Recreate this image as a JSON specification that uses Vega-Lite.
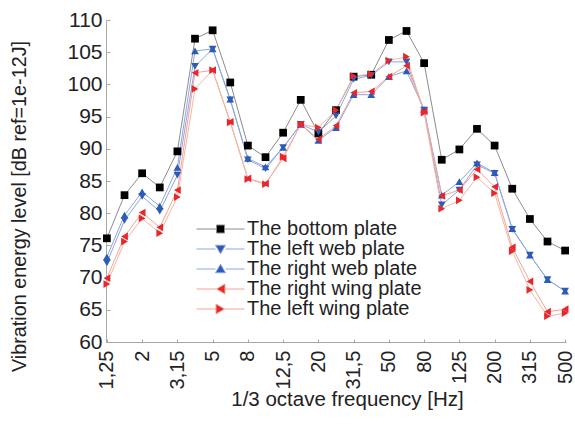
{
  "$schema": "https://vega.github.io/schema/vega-lite/v6.json",
  "autosize": "none",
  "padding": {"left": 106, "top": 20, "right": 9, "bottom": 98},
  "width": 460,
  "height": 322,
  "config": {
    "view": {"stroke": null},
    "font": "Liberation Sans",
    "axis": {"domainColor": "#a8a8a8", "tickColor": "#a8a8a8", "labelColor": "#222", "titleColor": "#222", "labelFont": "Liberation Sans", "titleFont": "Liberation Sans", "titleFontWeight": "normal", "grid": false}
  },
  "data": {
    "values": [
      {"f":"1,25","plate":"The bottom plate","level":76.1},{"f":"1,6","plate":"The bottom plate","level":82.8},{"f":"2","plate":"The bottom plate","level":86.2},{"f":"2,5","plate":"The bottom plate","level":84.0},{"f":"3,15","plate":"The bottom plate","level":89.6},{"f":"4","plate":"The bottom plate","level":107.1},{"f":"5","plate":"The bottom plate","level":108.4},{"f":"6,3","plate":"The bottom plate","level":100.3},{"f":"8","plate":"The bottom plate","level":90.5},{"f":"10","plate":"The bottom plate","level":88.7},{"f":"12,5","plate":"The bottom plate","level":92.5},{"f":"16","plate":"The bottom plate","level":97.6},{"f":"20","plate":"The bottom plate","level":92.4},{"f":"25","plate":"The bottom plate","level":96.0},{"f":"31,5","plate":"The bottom plate","level":101.2},{"f":"40","plate":"The bottom plate","level":101.5},{"f":"50","plate":"The bottom plate","level":106.9},{"f":"63","plate":"The bottom plate","level":108.3},{"f":"80","plate":"The bottom plate","level":103.3},{"f":"100","plate":"The bottom plate","level":88.3},{"f":"125","plate":"The bottom plate","level":89.9},{"f":"160","plate":"The bottom plate","level":93.1},{"f":"200","plate":"The bottom plate","level":90.5},{"f":"250","plate":"The bottom plate","level":83.8},{"f":"315","plate":"The bottom plate","level":79.1},{"f":"400","plate":"The bottom plate","level":75.6},{"f":"500","plate":"The bottom plate","level":74.2},
      {"f":"1,25","plate":"The left web plate","level":72.3},{"f":"1,6","plate":"The left web plate","level":78.9},{"f":"2","plate":"The left web plate","level":82.6},{"f":"2,5","plate":"The left web plate","level":80.3},{"f":"3,15","plate":"The left web plate","level":85.9},{"f":"4","plate":"The left web plate","level":102.8},{"f":"5","plate":"The left web plate","level":105.5},{"f":"6,3","plate":"The left web plate","level":97.6},{"f":"8","plate":"The left web plate","level":88.3},{"f":"10","plate":"The left web plate","level":86.9},{"f":"12,5","plate":"The left web plate","level":90.2},{"f":"16","plate":"The left web plate","level":93.8},{"f":"20","plate":"The left web plate","level":92.6},{"f":"25","plate":"The left web plate","level":95.1},{"f":"31,5","plate":"The left web plate","level":100.8},{"f":"40","plate":"The left web plate","level":101.4},{"f":"50","plate":"The left web plate","level":103.5},{"f":"63","plate":"The left web plate","level":103.5},{"f":"80","plate":"The left web plate","level":96.0},{"f":"100","plate":"The left web plate","level":81.3},{"f":"125","plate":"The left web plate","level":83.6},{"f":"160","plate":"The left web plate","level":87.5},{"f":"200","plate":"The left web plate","level":86.2},{"f":"250","plate":"The left web plate","level":77.5},{"f":"315","plate":"The left web plate","level":73.5},{"f":"400","plate":"The left web plate","level":69.7},{"f":"500","plate":"The left web plate","level":67.9},
      {"f":"1,25","plate":"The right web plate","level":73.2},{"f":"1,6","plate":"The right web plate","level":79.7},{"f":"2","plate":"The right web plate","level":83.3},{"f":"2,5","plate":"The right web plate","level":81.1},{"f":"3,15","plate":"The right web plate","level":87.1},{"f":"4","plate":"The right web plate","level":105.2},{"f":"5","plate":"The right web plate","level":105.5},{"f":"6,3","plate":"The right web plate","level":97.7},{"f":"8","plate":"The right web plate","level":88.5},{"f":"10","plate":"The right web plate","level":87.2},{"f":"12,5","plate":"The right web plate","level":90.2},{"f":"16","plate":"The right web plate","level":93.8},{"f":"20","plate":"The right web plate","level":91.3},{"f":"25","plate":"The right web plate","level":93.3},{"f":"31,5","plate":"The right web plate","level":98.4},{"f":"40","plate":"The right web plate","level":98.4},{"f":"50","plate":"The right web plate","level":101.2},{"f":"63","plate":"The right web plate","level":102.1},{"f":"80","plate":"The right web plate","level":96.1},{"f":"100","plate":"The right web plate","level":82.8},{"f":"125","plate":"The right web plate","level":84.9},{"f":"160","plate":"The right web plate","level":87.8},{"f":"200","plate":"The right web plate","level":86.3},{"f":"250","plate":"The right web plate","level":77.6},{"f":"315","plate":"The right web plate","level":73.5},{"f":"400","plate":"The right web plate","level":69.7},{"f":"500","plate":"The right web plate","level":67.9},
      {"f":"1,25","plate":"The right wing plate","level":69.9},{"f":"1,6","plate":"The right wing plate","level":76.4},{"f":"2","plate":"The right wing plate","level":80.1},{"f":"2,5","plate":"The right wing plate","level":77.8},{"f":"3,15","plate":"The right wing plate","level":83.6},{"f":"4","plate":"The right wing plate","level":101.8},{"f":"5","plate":"The right wing plate","level":102.2},{"f":"6,3","plate":"The right wing plate","level":94.2},{"f":"8","plate":"The right wing plate","level":85.4},{"f":"10","plate":"The right wing plate","level":84.6},{"f":"12,5","plate":"The right wing plate","level":88.5},{"f":"16","plate":"The right wing plate","level":93.8},{"f":"20","plate":"The right wing plate","level":91.5},{"f":"25","plate":"The right wing plate","level":93.6},{"f":"31,5","plate":"The right wing plate","level":98.7},{"f":"40","plate":"The right wing plate","level":98.9},{"f":"50","plate":"The right wing plate","level":101.2},{"f":"63","plate":"The right wing plate","level":102.9},{"f":"80","plate":"The right wing plate","level":95.8},{"f":"100","plate":"The right wing plate","level":82.7},{"f":"125","plate":"The right wing plate","level":83.6},{"f":"160","plate":"The right wing plate","level":86.8},{"f":"200","plate":"The right wing plate","level":84.1},{"f":"250","plate":"The right wing plate","level":74.7},{"f":"315","plate":"The right wing plate","level":69.4},{"f":"400","plate":"The right wing plate","level":64.7},{"f":"500","plate":"The right wing plate","level":65.1},
      {"f":"1,25","plate":"The left wing plate","level":69.0},{"f":"1,6","plate":"The left wing plate","level":75.6},{"f":"2","plate":"The left wing plate","level":79.2},{"f":"2,5","plate":"The left wing plate","level":76.9},{"f":"3,15","plate":"The left wing plate","level":82.5},{"f":"4","plate":"The left wing plate","level":99.3},{"f":"5","plate":"The left wing plate","level":102.2},{"f":"6,3","plate":"The left wing plate","level":94.1},{"f":"8","plate":"The left wing plate","level":85.3},{"f":"10","plate":"The left wing plate","level":84.5},{"f":"12,5","plate":"The left wing plate","level":88.8},{"f":"16","plate":"The left wing plate","level":93.8},{"f":"20","plate":"The left wing plate","level":93.3},{"f":"25","plate":"The left wing plate","level":96.0},{"f":"31,5","plate":"The left wing plate","level":101.3},{"f":"40","plate":"The left wing plate","level":101.6},{"f":"50","plate":"The left wing plate","level":103.7},{"f":"63","plate":"The left wing plate","level":104.3},{"f":"80","plate":"The left wing plate","level":95.6},{"f":"100","plate":"The left wing plate","level":80.7},{"f":"125","plate":"The left wing plate","level":82.0},{"f":"160","plate":"The left wing plate","level":85.6},{"f":"200","plate":"The left wing plate","level":83.1},{"f":"250","plate":"The left wing plate","level":74.1},{"f":"315","plate":"The left wing plate","level":68.1},{"f":"400","plate":"The left wing plate","level":64.0},{"f":"500","plate":"The left wing plate","level":64.5}
    ]
  },
  "encoding": {
    "x": {
      "field": "f", "type": "ordinal",
      "sort": ["1,25","1,6","2","2,5","3,15","4","5","6,3","8","10","12,5","16","20","25","31,5","40","50","63","80","100","125","160","200","250","315","400","500"],
      "scale": {"type": "point", "padding": 0.05},
      "axis": {
        "title": "1/3 octave frequency [Hz]",
        "values": ["1,25","2","3,15","5","8","12,5","20","31,5","50","80","125","200","315","500"],
        "labelAngle": -90, "labelAlign": "right", "labelBaseline": "middle",
        "labelFontSize": 20, "labelPadding": 11, "tickSize": -3,
        "titleFontSize": 20.5, "titleX": 241, "titleY": 47, "titleBaseline": "top"
      }
    },
    "y": {
      "field": "level", "type": "quantitative",
      "scale": {"domain": [60, 110], "nice": false, "zero": false},
      "axis": {
        "title": "Vibration energy level [dB ref=1e-12J]",
        "values": [60,65,70,75,80,85,90,95,100,105,110],
        "labelFontSize": 21, "labelPadding": 8, "tickSize": -4,
        "titleFontSize": 19.8, "titleX": -81, "titleY": 186, "titleAngle": 270, "titleBaseline": "alphabetic", "titleAlign": "center"
      }
    }
  },
  "layer": [
    {
      "mark": {"type": "line", "strokeWidth": 1},
      "encoding": {
        "color": {
          "field": "plate", "type": "nominal",
          "scale": {"domain": ["The bottom plate","The left web plate","The right web plate","The right wing plate","The left wing plate"], "range": ["#8c8c8c","#8fa6dc","#8fa6dc","#f5a493","#f5b4a6"]},
          "legend": null
        },
        "detail": {"field": "plate"}
      }
    },
    {
      "mark": {"type": "point", "filled": true, "opacity": 1, "size": 60},
      "encoding": {
        "color": {
          "field": "plate", "type": "nominal",
          "scale": {"domain": ["The bottom plate","The left web plate","The right web plate","The right wing plate","The left wing plate"], "range": ["#000000","#2d5cb8","#2d5cb8","#e8262c","#e8262c"]},
          "legend": {
            "orient": "none", "legendX": 104.5, "legendY": 199, "title": null,
            "labelFontSize": 20, "labelColor": "#222", "labelOffset": 16.5, "labelLimit": 400,
            "rowPadding": -2.5, "padding": 0, "symbolSize": 100,
            "encoding": {
              "symbols": {
                "shape": {"value": {"expr": "datum.value === 'The bottom plate' ? 'M-4.8,0H-0.8M0.8,0H4.8M-0.8,-0.8H0.8V0.8H-0.8Z' : datum.value === 'The left web plate' ? 'M-4.8,0H-1M1,0H4.8M-1,-0.75H1L0,0.95Z' : datum.value === 'The right web plate' ? 'M-4.8,0H-1M1,0H4.8M-1,0.75H1L0,-0.95Z' : datum.value === 'The right wing plate' ? 'M-4.8,0H-0.8M0.9,0H4.8M0.9,-1V1L-0.8,0Z' : 'M-4.8,0H-0.9M0.8,0H4.8M-0.9,-1V1L0.8,0Z'"}},
                "stroke": {"value": {"expr": "datum.value === 'The bottom plate' ? '#8c8c8c' : (datum.value === 'The left web plate' || datum.value === 'The right web plate') ? '#8fa6dc' : '#f5a493'"}},
                "strokeWidth": {"value": 1}
              }
            }
          }
        },
        "shape": {
          "field": "plate", "type": "nominal",
          "scale": {"domain": ["The bottom plate","The left web plate","The right web plate","The right wing plate","The left wing plate"], "range": ["square","triangle-down","triangle-up","triangle-left","triangle-right"]},
          "legend": null
        }
      }
    }
  ],
  "resolve": {"scale": {"color": "independent"}}
}
